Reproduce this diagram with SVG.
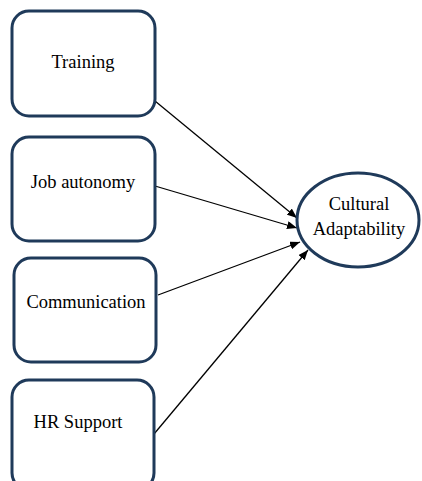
<svg xmlns="http://www.w3.org/2000/svg" width="422" height="481" viewBox="0 0 422 481">
<style>
.box{fill:#fff;stroke:#1f3a5a;stroke-width:3}
.t{font-family:"Liberation Serif",serif;font-size:18.5px;fill:#000;text-anchor:middle}
.c{stroke:#000;stroke-width:1.3;fill:none;marker-end:url(#ah)}
</style>
<defs>
<marker id="ah" markerWidth="10" markerHeight="8" refX="10" refY="4" orient="auto" markerUnits="userSpaceOnUse">
<path d="M0,0 L10,4 L0,8 Z" fill="#000"/>
</marker>
</defs>
<rect width="422" height="481" fill="#fff"/>
<g id="connectors">
<line class="c" x1="155" y1="101" x2="297" y2="218"/>
<line class="c" x1="155" y1="186" x2="297" y2="228"/>
<line class="c" x1="158" y1="295" x2="300" y2="242"/>
<line class="c" x1="154" y1="434" x2="308" y2="250"/>
</g>
<g id="training"><rect class="box" x="12" y="11" width="143" height="105" rx="17"/><text class="t" x="83" y="68">Training</text></g>
<g id="job"><rect class="box" x="12" y="137" width="143" height="104" rx="17"/><text class="t" x="83" y="188">Job autonomy</text></g>
<g id="comm"><rect class="box" x="14" y="258" width="142" height="104" rx="17"/><text class="t" x="86" y="308">Communication</text></g>
<g id="hr"><rect class="box" x="12" y="380" width="142" height="110" rx="17"/><text class="t" x="78" y="428">HR Support</text></g>
<g id="cultural"><ellipse class="box" cx="358" cy="220" rx="61" ry="47"/><text class="t" x="359" y="210">Cultural</text><text class="t" x="359" y="235">Adaptability</text></g>
</svg>
